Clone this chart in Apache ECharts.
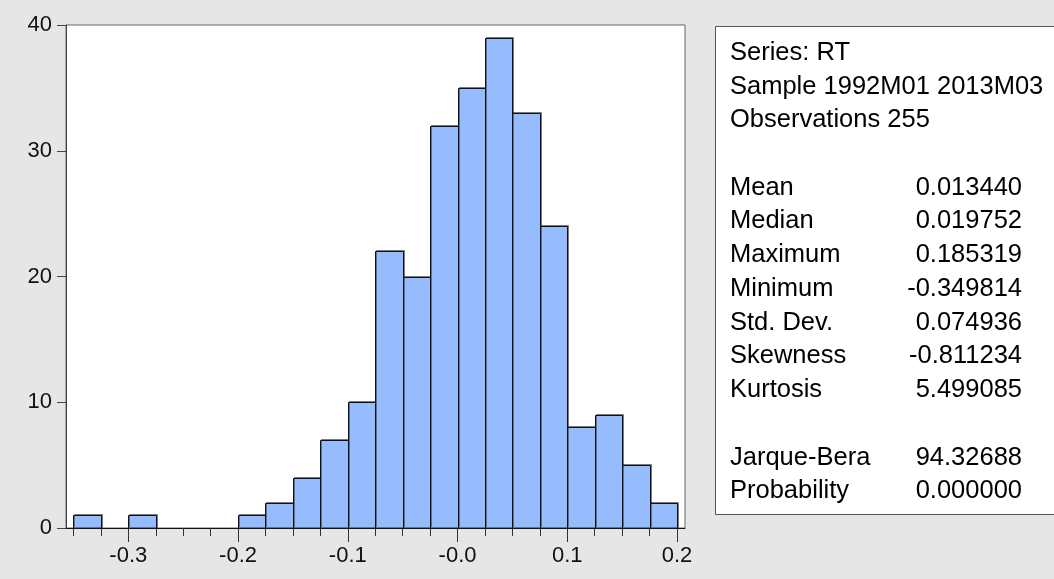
<!DOCTYPE html>
<html>
<head>
<meta charset="utf-8">
<script src="https://cdn.jsdelivr.net/npm/echarts@6/dist/echarts.min.js"></script>
<style>
html,body{margin:0;padding:0;background:#e6e6e6;}
#chart{width:1054px;height:579px;}
</style>
</head>
<body>
<div id="chart"></div>
<script>
// ---- data ----
var binStarts = [-0.35,-0.325,-0.3,-0.275,-0.25,-0.225,-0.2,-0.175,-0.15,-0.125,-0.1,-0.075,-0.05,-0.025,0,0.025,0.05,0.075,0.1,0.125,0.15,0.175];
var binWidth = 0.025;
var counts = [1,0,1,0,0,0,1,2,4,7,10,22,20,32,35,39,33,24,8,9,5,2];
var xMajorTicks = [-0.3,-0.2,-0.1,0,0.1,0.2];
var xMajorLabels = ['-0.3','-0.2','-0.1','-0.0','0.1','0.2'];
var xMinorTicks = [-0.35,-0.325,-0.3,-0.275,-0.25,-0.225,-0.2,-0.175,-0.15,-0.125,-0.1,-0.075,-0.05,-0.025,0,0.025,0.05,0.075,0.1,0.125,0.15,0.175,0.2];
var yTicks = [0,10,20,30,40];
var headerLines = ['Series: RT','Sample 1992M01 2013M03','Observations 255'];
var statLabels = ['Mean','Median','Maximum','Minimum','Std. Dev.','Skewness','Kurtosis'];
var statValues = ['0.013440','0.019752','0.185319','-0.349814','0.074936','-0.811234','5.499085'];
var testLabels = ['Jarque-Bera','Probability'];
var testValues = ['94.32688','0.000000'];

var FONT = '"Liberation Sans", Arial, sans-serif';
var histData = binStarts.map(function(s,i){ return [s, s+binWidth, counts[i]]; });

var xMin = -0.3568, xMax = 0.2073;
var TXT = '25.5px ' + FONT;

var graphics = [{
  type:'rect', shape:{x:715.5,y:26.5,width:360,height:488},
  style:{fill:'#ffffff',stroke:'#555',lineWidth:1}, z:1
}];
var headerY = [53,87,120];
headerLines.forEach(function(t,i){
  graphics.push({type:'text', x:730, y:headerY[i], style:{text:t, font:TXT, fill:'#000', textVerticalAlign:'middle'}, z:2});
});
var statY = [188,221,255,289,323,356,390];
statLabels.forEach(function(t,i){
  graphics.push({type:'text', x:730, y:statY[i], style:{text:t, font:TXT, fill:'#000', textVerticalAlign:'middle'}, z:2});
  graphics.push({type:'text', x:1022, y:statY[i], style:{text:statValues[i], font:TXT, fill:'#000', textAlign:'right', textVerticalAlign:'middle'}, z:2});
});
var testY = [458,491];
testLabels.forEach(function(t,i){
  graphics.push({type:'text', x:730, y:testY[i], style:{text:t, font:TXT, fill:'#000', textVerticalAlign:'middle'}, z:2});
  graphics.push({type:'text', x:1022, y:testY[i], style:{text:testValues[i], font:TXT, fill:'#000', textAlign:'right', textVerticalAlign:'middle'}, z:2});
});

var chart = echarts.init(document.getElementById('chart'), null, {renderer:'canvas'});
chart.setOption({
  backgroundColor:'#e6e6e6',
  animation:false,
  grid:{left:66, top:25, right:369, bottom:51, show:true, backgroundColor:'#ffffff', borderColor:'#666', borderWidth:1},
  xAxis:[{
    type:'value', min:xMin, max:xMax, position:'bottom',
    axisLine:{show:true, onZero:false, lineStyle:{color:'#111', width:1}},
    axisTick:{show:true, length:8, customValues:xMinorTicks, lineStyle:{color:'#333'}},
    axisLabel:{show:false},
    splitLine:{show:false}
  },{
    type:'value', min:xMin, max:xMax, position:'bottom',
    axisLine:{show:false, onZero:false},
    axisTick:{show:true, length:14, customValues:xMajorTicks, lineStyle:{color:'#333'}},
    axisLabel:{show:true, customValues:xMajorTicks, margin:17, color:'#111', fontSize:22, fontFamily:FONT,
      formatter:function(v){ for(var i=0;i<xMajorTicks.length;i++){ if(Math.abs(v-xMajorTicks[i])<1e-9) return xMajorLabels[i]; } return ''; }},
    splitLine:{show:false}
  }],
  yAxis:{
    type:'value', min:0, max:40, interval:10,
    axisLine:{show:true, onZero:false, lineStyle:{color:'#444'}},
    axisTick:{show:true, length:9, customValues:yTicks, lineStyle:{color:'#444'}},
    axisLabel:{show:true, customValues:yTicks, margin:14, color:'#111', fontSize:22, fontFamily:FONT},
    splitLine:{show:false}
  },
  series:[{
    type:'custom',
    xAxisIndex:0,
    data:histData,
    renderItem:function(params, api){
      var c = api.value(2);
      if(c<=0) return null;
      var p0 = api.coord([api.value(0), c]);
      var p1 = api.coord([api.value(1), 0]);
      return {
        type:'rect',
        shape:{x:Math.round(p0[0])+0.5, y:Math.round(p0[1])+0.5, width:Math.round(p1[0])-Math.round(p0[0]), height:Math.round(p1[1])-Math.round(p0[1])},
        style:{fill:'#97bcfd', stroke:'#111', lineWidth:1, shadowColor:'rgba(0,0,0,0.4)', shadowOffsetX:1, shadowOffsetY:-1, shadowBlur:0}
      };
    }
  }],
  graphic:graphics
});
</script>
</body>
</html>
